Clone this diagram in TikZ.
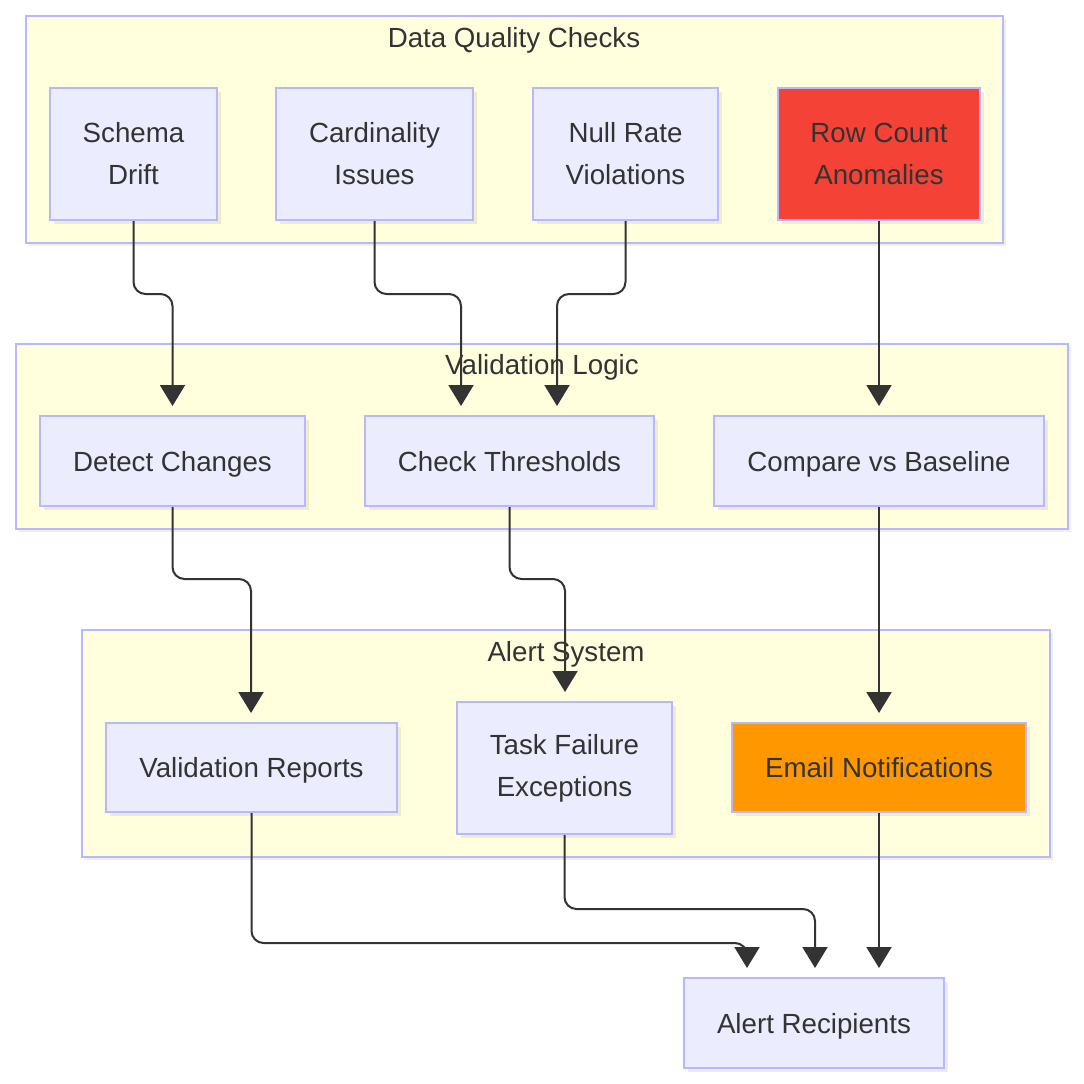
\documentclass[tikz,border=0pt]{standalone}
\usepackage{fontspec}
\setmainfont{Liberation Sans}
\usetikzlibrary{arrows.meta,shadows}
\definecolor{clfill}{HTML}{FFFFDE}
\definecolor{clline}{HTML}{B8B8FF}
\definecolor{ndfill}{HTML}{ECECFF}
\definecolor{ndline}{HTML}{B8B8FF}
\definecolor{txt}{HTML}{333333}
\definecolor{redfill}{HTML}{F44336}
\definecolor{orfill}{HTML}{FF9800}
\begin{document}
\begin{tikzpicture}[x=1pt,y=-1pt,
  cluster/.style={draw=clline,fill=clfill,line width=2pt,
    drop shadow={opacity=0.12,shadow xshift=3pt,shadow yshift=-3pt}},
  cltitle/.style={text=txt,font=\fontsize{27.7}{42}\selectfont,inner sep=0pt,
    text height=20pt,text depth=0pt},
  box/.style={draw=ndline,fill=ndfill,line width=2pt,text=txt,align=center,
    font=\fontsize{27.7}{42}\selectfont,inner sep=0pt,
    drop shadow={opacity=0.15,shadow xshift=4pt,shadow yshift=-4pt}},
  oneline/.style={text height=20pt,text depth=0pt},
  edge/.style={draw=txt,line width=2pt,rounded corners=12pt,
    -{Triangle[width=25pt,length=21pt]}}
]
\useasboundingbox[fill=white] (0,0) rectangle (1084,1084);

% clusters
\filldraw[cluster] (26,16) rectangle (1003,243);
\node[cltitle] (t1) at (514,37) {Data Quality Checks};
\filldraw[cluster] (16,344) rectangle (1068,529);
\node[cltitle] (t2) at (542,364) {Validation Logic};
\filldraw[cluster] (82,630) rectangle (1050,857);
\node[cltitle] (t3) at (566,651) {Alert System};

% nodes
\node[box,minimum width=167pt,minimum height=132pt] (sd) at (133.5,154) {Schema\\Drift};
\node[box,minimum width=197pt,minimum height=132pt] (ci) at (374.5,154) {Cardinality\\Issues};
\node[box,minimum width=185pt,minimum height=132pt] (nr) at (625.5,154) {Null Rate\\Violations};
\node[box,minimum width=202pt,minimum height=132pt,fill=redfill] (rc) at (879,154) {Row Count\\Anomalies};

\node[box,oneline,minimum width=265pt,minimum height=90pt] (dc) at (172.5,461) {Detect Changes};
\node[box,oneline,minimum width=289pt,minimum height=90pt] (ct) at (509.5,461) {Check Thresholds};
\node[box,oneline,minimum width=330pt,minimum height=90pt] (cb) at (879,461) {Compare vs Baseline};

\node[box,oneline,minimum width=291pt,minimum height=89pt] (vr) at (251.5,767.5) {Validation Reports};
\node[box,minimum width=215pt,minimum height=132pt] (tf) at (564.5,768) {Task Failure\\Exceptions};
\node[box,oneline,minimum width=294pt,minimum height=89pt,fill=orfill] (en) at (879,767.5) {Email Notifications};

\node[box,oneline,minimum width=260pt,minimum height=90pt] (ar) at (814,1023) {Alert Recipients};

% edges
\draw[edge] (sd.south) -- ++(0,73) -| ([yshift=9pt]dc.north);
\draw[edge] (ci.south) -- ++(0,73) -| ([xshift=-48.5pt,yshift=9pt]ct.north);
\draw[edge] (nr.south) -- ++(0,73) -| ([xshift=47.5pt,yshift=9pt]ct.north);
\draw[edge] (rc.south) -- ([yshift=9pt]cb.north);
\draw[edge] (dc.south) -- ++(0,72) -| ([xshift=-0.5pt,yshift=9pt]vr.north);
\draw[edge] (ct.south) -- ++(0,72) -| ([xshift=0.5pt,yshift=9pt]tf.north);
\draw[edge] (cb.south) -- ([yshift=9pt]en.north);
\draw[edge] (vr.south) -- ++(0,130) -| ([xshift=-67pt,yshift=9pt]ar.north);
\draw[edge] (tf.south) -- ++(0,74) -| ([xshift=1pt,yshift=9pt]ar.north);
\draw[edge] (en.south) -- ([xshift=65pt,yshift=9pt]ar.north);
\end{tikzpicture}
\end{document}
